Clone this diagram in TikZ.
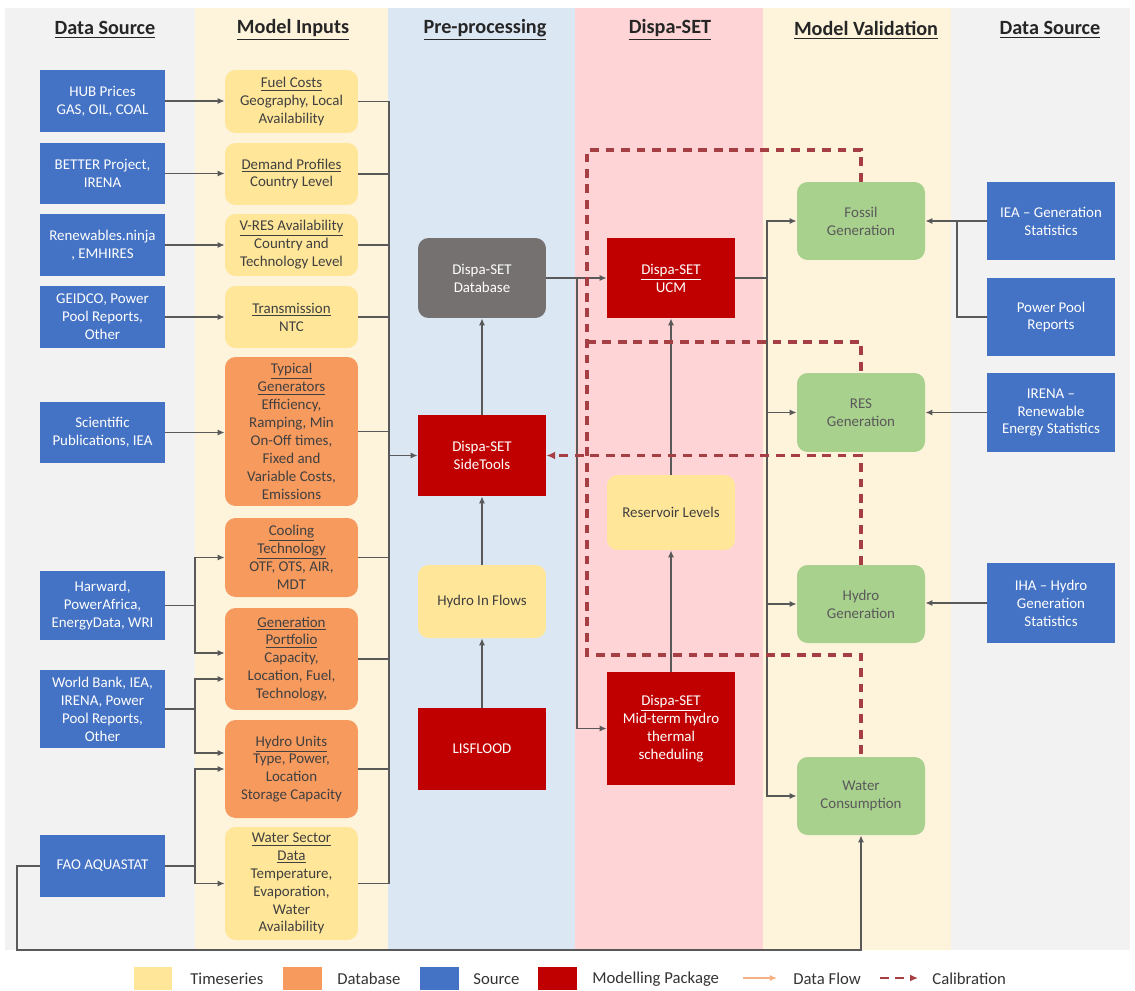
\documentclass[tikz,border=0pt]{standalone}
\usepackage{fontspec}
\setmainfont{Carlito}
\usetikzlibrary{arrows.meta,calc,positioning}

\definecolor{bggray}{HTML}{F2F2F2}
\definecolor{bgyellow}{HTML}{FEF4DC}
\definecolor{bgblue}{HTML}{DCE7F4}
\definecolor{bgpink}{HTML}{FED4D6}
\definecolor{tsyellow}{HTML}{FFE699}
\definecolor{dborange}{HTML}{F79A5E}
\definecolor{srcblue}{HTML}{4472C4}
\definecolor{modred}{HTML}{C00000}
\definecolor{dbgray}{HTML}{767171}
\definecolor{valgreen}{HTML}{A9D18E}
\definecolor{flowgray}{HTML}{595959}
\definecolor{calred}{HTML}{A63F43}
\definecolor{legorange}{HTML}{F4B183}

\newcommand{\boxfont}{\fontsize{8.5}{10.2}\selectfont}

\tikzset{
  head/.style={font=\fontsize{11.5}{13}\selectfont\bfseries, text=black!85},
  card/.style={align=center, inner sep=1pt, font=\boxfont, minimum width=2.56cm},
  src/.style={card, fill=srcblue, text=white},
  tser/.style={card, fill=tsyellow, text=black!75, rounded corners=6pt},
  dbase/.style={card, fill=dborange, text=black!75, rounded corners=6pt},
  modpkg/.style={card, fill=modred, text=white},
  valid/.style={card, fill=valgreen, text=black!65, rounded corners=6pt},
  wire/.style={draw=flowgray, line width=1pt},
  flow/.style={wire, -{Latex[length=4pt,width=3.5pt]}},
  calib/.style={draw=calred, line width=1.9pt, dash pattern=on 5pt off 3.8pt},
  swatch/.style={minimum width=0.78cm, minimum height=0.46cm, inner sep=0pt},
  legtxt/.style={font=\fontsize{9.5}{11}\selectfont, text=black!80, anchor=west, inner sep=0pt},
}

\begin{document}
\begin{tikzpicture}[x=0.02cm,y=-0.02cm]
\useasboundingbox (0,0) rectangle (1135,990);

% column backgrounds
\fill[bggray] (5,8) rectangle (195,950);
\fill[bgyellow] (195,8) rectangle (388,950);
\fill[bgblue] (388,8) rectangle (575,950);
\fill[bgpink] (575,8) rectangle (763,950);
\fill[bgyellow] (763,8) rectangle (951,950);
\fill[bggray] (951,8) rectangle (1130,950);

\node[head] (hsrc) at (105,30) {\underline{Data Source}};
\node[head] (hinp) at (293,30) {\underline{Model Inputs}};
\node[head] (hpre) at (485,30) {\underline{Pre-processing}};
\node[head] (hdsp) at (670,30) {\underline{Dispa-SET}};
\node[head] (hval) at (866,30) {\underline{Model Validation}};
\node[head] (hsrc2) at (1050,30) {\underline{Data Source}};

% data sources, left
\node[src, minimum width=2.5cm, minimum height=1.24cm] (s1) at (102.5,101) {HUB Prices\\GAS, OIL, COAL};
\node[src, minimum width=2.5cm, minimum height=1.22cm] (s2) at (102.5,173.5) {BETTER Project,\\IRENA};
\node[src, minimum width=2.5cm, minimum height=1.24cm] (s3) at (102.5,245) {Renewables.ninja\\, EMHIRES};
\node[src, minimum width=2.5cm, minimum height=1.24cm] (s4) at (102.5,317) {GEIDCO, Power\\Pool Reports,\\Other};
\node[src, minimum width=2.5cm, minimum height=1.22cm] (s5) at (102.5,432.5) {Scientific\\Publications, IEA};
\node[src, minimum width=2.5cm, minimum height=1.38cm] (s6) at (102.5,605.5) {Harward,\\PowerAfrica,\\EnergyData, WRI};
\node[src, minimum width=2.5cm, minimum height=1.56cm] (s7) at (102.5,709) {World Bank, IEA,\\IRENA, Power\\Pool Reports,\\Other};
\node[src, minimum width=2.5cm, minimum height=1.24cm] (s8) at (102.5,866) {FAO AQUASTAT};

% model inputs
\node[tser, minimum width=2.66cm, minimum height=1.26cm] (i1) at (291.5,101.5) {\underline{Fuel Costs}\\Geography, Local\\Availability};
\node[tser, minimum width=2.66cm, minimum height=1.24cm] (i2) at (291.5,174) {\underline{Demand Profiles}\\Country Level};
\node[tser, minimum width=2.66cm, minimum height=1.24cm] (i3) at (291.5,245) {\underline{V-RES Availability}\\Country and\\Technology Level};
\node[tser, minimum width=2.66cm, minimum height=1.24cm] (i4) at (291.5,317) {\underline{Transmission}\\NTC};
\node[dbase, minimum width=2.66cm, minimum height=2.98cm] (i5) at (291.5,431.5) {\underline{Typical}\\\underline{Generators}\\Efficiency,\\Ramping, Min\\On-Off times,\\Fixed and\\Variable Costs,\\Emissions};
\node[dbase, minimum width=2.66cm, minimum height=1.58cm] (i6) at (291.5,557.5) {\underline{Cooling}\\\underline{Technology}\\OTF, OTS, AIR,\\MDT};
\node[dbase, minimum width=2.66cm, minimum height=2.04cm] (i7) at (291.5,659) {\underline{Generation}\\\underline{Portfolio}\\Capacity,\\Location, Fuel,\\Technology,};
\node[dbase, minimum width=2.66cm, minimum height=1.96cm] (i8) at (291.5,769) {\underline{Hydro Units}\\Type, Power,\\Location\\Storage Capacity};
\node[tser, minimum width=2.66cm, minimum height=2.26cm] (i9) at (291.5,883.5) {\underline{Water Sector}\\\underline{Data}\\Temperature,\\Evaporation,\\Water\\Availability};

% pre-processing
\node[card, fill=dbgray, text=white, rounded corners=6pt, minimum height=1.6cm] (db) at (482,278) {Dispa-SET\\Database};
\node[modpkg, minimum height=1.62cm] (side) at (482,455.5) {Dispa-SET\\SideTools};
\node[tser, minimum height=1.46cm] (hin) at (482,601.5) {Hydro In Flows};
\node[modpkg, minimum height=1.64cm] (lis) at (482,749) {LISFLOOD};

% dispa-set
\node[modpkg, minimum height=1.6cm] (ucm) at (671,278) {\underline{Dispa-SET}\\UCM};
\node[tser, minimum height=1.5cm] (res) at (671,512.5) {Reservoir Levels};
\node[modpkg, minimum height=2.26cm] (mid) at (671,728.5) {\underline{Dispa-SET}\\Mid-term hydro\\thermal\\scheduling};

% model validation
\node[valid, minimum height=1.56cm] (fos) at (861,221) {Fossil\\Generation};
\node[valid, minimum height=1.58cm] (resg) at (861,412.5) {RES\\Generation};
\node[valid, minimum height=1.56cm] (hyg) at (861,604) {Hydro\\Generation};
\node[valid, minimum height=1.56cm] (wat) at (861,796) {Water\\Consumption};

% data sources, right
\node[src, minimum height=1.56cm] (iea) at (1051,221) {IEA -- Generation\\Statistics};
\node[src, minimum height=1.56cm] (pp) at (1051,317) {Power Pool\\Reports};
\node[src, minimum height=1.58cm] (irena) at (1051,412.5) {IRENA --\\Renewable\\Energy Statistics};
\node[src, minimum height=1.6cm] (iha) at (1051,603) {IHA -- Hydro\\Generation\\Statistics};

% sources to inputs
\foreach \i in {1,...,5}
  \draw[flow] (s\i.east) -- (s\i.east -| i\i.west);
\coordinate (j6) at ($(s6.east)+(30,0)$);
\coordinate (j7) at ($(s7.east)+(30,0)$);
\coordinate (j8) at ($(s8.east)+(30,0)$);
\draw[wire] (s6.east) -- (j6);
\draw[flow] (j6) |- (i6.west);
\draw[flow] (j6) |- ($(i7.west)+(0,-6)$);
\draw[wire] (s7.east) -- (j7);
\draw[flow] (j7) |- ($(i7.west)+(0,20)$);
\draw[flow] (j7) |- ($(i8.west)+(0,-16)$);
\draw[wire] (s8.east) -- (j8);
\draw[flow] (j8) |- (i8.west);
\draw[flow] (j8) |- (i9.west);

% inputs to side tools
\coordinate (bus) at ($(side.west)+(-29,0)$);
\foreach \i in {1,...,9}
  \draw[wire] (i\i.east) -| (bus);
\draw[flow] (bus) -- (side.west);

\draw[flow] (lis) -- (hin);
\draw[flow] (hin) -- (side);
\draw[flow] (side) -- (db);
\draw[flow] (db) -- (ucm);
\coordinate (jdb) at ($(db.east)+(31,0)$);
\draw[flow] (jdb) |- (mid.west);
\draw[flow] (mid) -- (res);
\draw[flow] (res) -- (ucm);

% outputs to validation
\coordinate (vbus) at ($(ucm.east)+(32,0)$);
\draw[wire] (ucm.east) -- (vbus);
\foreach \n in {fos,resg,hyg,wat}
  \draw[flow] (vbus) |- (\n.west);

\draw[flow] (iea) -- (fos);
\coordinate (jpp) at ($(iea.west)+(-30,0)$);
\draw[wire] (pp.west) -| (jpp);
\draw[flow] (irena) -- (resg);
\draw[flow] (iha.west) -- (iha.west -| hyg.east);

\draw[flow] (s8.west) -- ++(-23,0) |- ($(wat.south)+(0,115)$) -- (wat.south);

% calibration
\coordinate (ctop) at (587,150);
\coordinate (cmid) at (587,342);
\coordinate (cbot) at (587,655);
\draw[calib] (fos.north) |- (ctop) -- (cbot) -| (wat.north);
\draw[calib] (cmid) -| (resg.north);
\draw[calib, -{Latex[length=5pt,width=4.5pt]}] (hyg.north) |- (side.east);

% legend
\node[swatch, fill=tsyellow] (lgts) at (153,978.5) {};
\node[legtxt] (lgtst) at (190,979) {Timeseries};
\node[swatch, fill=dborange] (lgdb) at (302.5,978.5) {};
\node[legtxt] (lgdbt) at (337,979) {Database};
\node[swatch, fill=srcblue] (lgsr) at (439,978.5) {};
\node[legtxt] (lgsrt) at (473,979) {Source};
\node[swatch, fill=modred] (lgmp) at (557,978.5) {};
\node[legtxt] (lgmpt) at (592,979) {Modelling Package};
\coordinate (lgfa) at (743,978);
\coordinate (lgfb) at (777,978);
\draw[legorange, line width=1.2pt, -{Latex[length=4pt,width=3.5pt]}] (lgfa) -- (lgfb);
\node[legtxt] (lgfl) at (793,979) {Data Flow};
\coordinate (lgca) at (880,978);
\coordinate (lgcb) at (918,978);
\draw[calred, line width=1.6pt, dash pattern=on 5pt off 3.5pt, -{Latex[length=4.5pt,width=4pt]}] (lgca) -- (lgcb);
\node[legtxt] (lgcl) at (932,979) {Calibration};
\end{tikzpicture}
\end{document}
